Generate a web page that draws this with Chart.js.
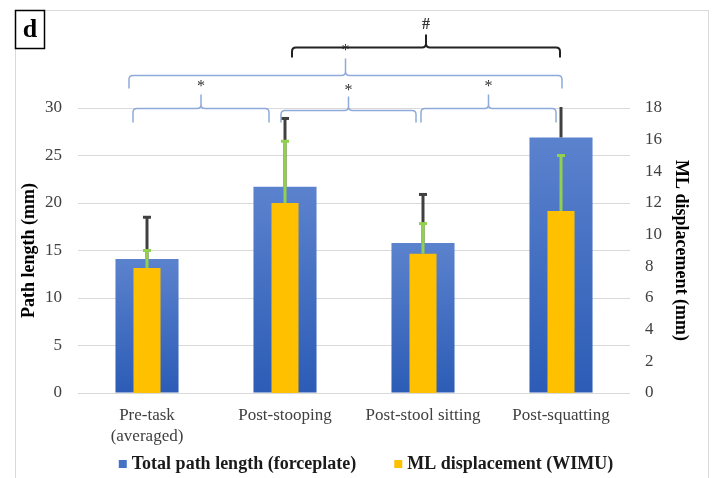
<!DOCTYPE html>
<html>
<head>
<meta charset="utf-8">
<script src="https://cdn.jsdelivr.net/npm/chart.js@4"></script>
<style>
  body { margin: 0; background: #fff; }
  canvas { display: block; }
</style>
</head>
<body>
<canvas id="chart" width="720" height="478"></canvas>
<script>
// Sway data (panel d)
const categories = [['Pre-task', '(averaged)'], 'Post-stooping', 'Post-stool sitting', 'Post-squatting'];
const pathLength = [14.1, 21.7, 15.8, 26.9];     // mm, left axis
const pathLengthSD = [4.4, 7.2, 5.1, 3.6];
const mlDisplacement = [7.9, 12.0, 8.8, 11.5];   // mm, right axis
const mlDisplacementSD = [1.1, 3.9, 1.9, 3.5];
const pathTicks = [0, 30, 5];
const mlTicks = [0, 18, 2];

// significance brackets: category indices, level on left axis, label
const brackets = [
    { from: 0, to: 1, level: 30.0, label: '*' },
    { from: 1, to: 2, level: 29.8, label: '*' },
    { from: 2, to: 3, level: 30.0, label: '*' },
    { from: 0, to: 3, level: 33.5, label: '*' },
    { from: 1, to: 3, level: 36.4, label: '#' }
];
// pixel trims at the bracket ends and look of each bracket
const bracketStyle = [
    { dx0: -14, dx1: -16, color: '#8eaadb', width: 1.5, drop: 14, tip: 14, gap: 22 },
    { dx0: -4, dx1: -7, color: '#8eaadb', width: 1.5, drop: 12, tip: 14, gap: 20 },
    { dx0: -2, dx1: -5, color: '#8eaadb', width: 1.5, drop: 14, tip: 14, gap: 22 },
    { dx0: -18, dx1: 1, color: '#8eaadb', width: 1.5, drop: 13, tip: 17, gap: 25 },
    { dx0: 7, dx1: -1, color: '#222222', width: 2, drop: 10, tip: 13, gap: 23 }
];

const serif = '"Liberation Serif", "Times New Roman", serif';
const legendColors = ['#4472c4', '#ffc000'];

function blueGradient(ctx) {
    const chart = ctx.chart;
    if (ctx.type !== 'data' || !chart.chartArea) return '#4472c4';
    const y = chart.scales.y;
    const top = y.getPixelForValue(ctx.raw);
    const bottom = y.getPixelForValue(0);
    const g = chart.ctx.createLinearGradient(0, top, 0, bottom);
    g.addColorStop(0, '#5b82cd');
    g.addColorStop(1, '#2c5cb6');
    return g;
}

// error bars (upward only, like the figure)
const errorBars = {
    id: 'errorBars',
    afterDatasetsDraw(chart) {
        const ctx = chart.ctx;
        const area = chart.chartArea;
        const x = chart.scales.x;
        const sets = [
            { scale: chart.scales.y, mean: pathLength, sd: pathLengthSD, color: '#404040' },
            { scale: chart.scales.y1, mean: mlDisplacement, sd: mlDisplacementSD, color: '#92d050' }
        ];
        ctx.save();
        ctx.beginPath();
        ctx.rect(area.left, area.top - 1, area.right - area.left, area.bottom - area.top + 1);
        ctx.clip();
        sets.forEach(s => {
            ctx.strokeStyle = s.color;
            ctx.lineWidth = 3;
            s.mean.forEach((m, i) => {
                const cx = x.getPixelForValue(i);
                const y0 = s.scale.getPixelForValue(m);
                const y1 = s.scale.getPixelForValue(m + s.sd[i]);
                ctx.beginPath();
                ctx.moveTo(cx, y0);
                ctx.lineTo(cx, y1);
                ctx.stroke();
                ctx.beginPath();
                ctx.moveTo(cx - 4, y1);
                ctx.lineTo(cx + 4, y1);
                ctx.stroke();
            });
        });
        ctx.restore();
    }
};

// curly brackets, legend, frame and panel letter
const annotations = {
    id: 'annotations',
    afterDraw(chart) {
        const ctx = chart.ctx;
        const x = chart.scales.x;
        const y = chart.scales.y;
        ctx.save();
        brackets.forEach((b, k) => {
            const st = bracketStyle[k];
            const x0 = x.getPixelForValue(b.from) + st.dx0;
            const x1 = x.getPixelForValue(b.to) + st.dx1;
            const yl = Math.round(y.getPixelForValue(b.level)) + 0.5;
            const mid = (x0 + x1) / 2;
            const r = 4;
            ctx.strokeStyle = st.color;
            ctx.lineWidth = st.width;
            ctx.beginPath();
            ctx.moveTo(x0, yl + st.drop);
            ctx.lineTo(x0, yl + r);
            ctx.quadraticCurveTo(x0, yl, x0 + r, yl);
            ctx.lineTo(mid - r, yl);
            ctx.quadraticCurveTo(mid, yl, mid, yl - r);
            ctx.lineTo(mid, yl - st.tip);
            ctx.moveTo(mid, yl - r);
            ctx.quadraticCurveTo(mid, yl, mid + r, yl);
            ctx.lineTo(x1 - r, yl);
            ctx.quadraticCurveTo(x1, yl, x1, yl + r);
            ctx.lineTo(x1, yl + st.drop);
            ctx.stroke();
            ctx.fillStyle = '#333';
            ctx.font = (b.label === '#' ? 'bold 16px ' : '16px ') + serif;
            ctx.textAlign = 'center';
            ctx.textBaseline = 'middle';
            ctx.fillText(b.label, mid, yl - st.gap);
        });

        // legend
        ctx.font = 'bold 18px ' + serif;
        ctx.textAlign = 'left';
        ctx.textBaseline = 'middle';
        const items = chart.data.datasets.map((d, i) => ({ text: d.label, color: legendColors[i] }));
        const widths = items.map(it => 8 + 5 + ctx.measureText(it.text).width);
        const gap = 38;
        const total = widths.reduce((a, b) => a + b, 0) + gap * (items.length - 1);
        let lx = 366 - total / 2;
        const ly = 464;
        items.forEach((it, i) => {
            ctx.fillStyle = it.color;
            ctx.fillRect(lx, ly - 4, 8, 8);
            ctx.fillStyle = '#1a1a1a';
            ctx.fillText(it.text, lx + 13, ly);
            lx += widths[i] + gap;
        });

        // outer frame
        ctx.strokeStyle = '#d9d9d9';
        ctx.lineWidth = 1;
        ctx.strokeRect(15.5, 10.5, 693, 490);
        // panel letter
        ctx.strokeStyle = '#000';
        ctx.lineWidth = 1.5;
        ctx.strokeRect(15.5, 10.5, 29, 38);
        ctx.fillStyle = '#000';
        ctx.font = 'bold 26px ' + serif;
        ctx.textAlign = 'center';
        ctx.fillText('d', 30, 30);
        ctx.restore();
    }
};

new Chart(document.getElementById('chart'), {
    type: 'bar',
    data: {
        labels: categories,
        datasets: [{
            label: 'Total path length (forceplate)',
            data: pathLength,
            yAxisID: 'y',
            backgroundColor: blueGradient,
            grouped: false,
            categoryPercentage: 1,
            barPercentage: 0.457,
            order: 2
        }, {
            label: 'ML displacement (WIMU)',
            data: mlDisplacement,
            yAxisID: 'y1',
            backgroundColor: '#ffc000',
            grouped: false,
            categoryPercentage: 1,
            barPercentage: 0.196,
            order: 1
        }]
    },
    options: {
        responsive: false,
        animation: false,
        layout: { padding: { top: 108, left: 19, right: 29, bottom: 0 } },
        plugins: {
            tooltip: { enabled: false },
            legend: { display: false }
        },
        scales: {
            x: {
                grid: { display: false, drawTicks: false },
                border: { display: false },
                ticks: { color: '#404040', font: { family: serif, size: 17, lineHeight: 1.25 }, maxRotation: 0, padding: 12 },
                afterFit: s => { s.height = 85; }
            },
            y: {
                position: 'left',
                min: pathTicks[0],
                max: pathTicks[1],
                ticks: { stepSize: pathTicks[2], color: '#404040', font: { family: serif, size: 17 }, padding: 16 },
                grid: { color: '#d9d9d9', drawTicks: false },
                border: { display: false },
                title: { display: true, text: 'Path length (mm)', color: '#000', font: { family: serif, size: 18, weight: 'bold' }, padding: 0 },
                afterFit: s => { s.width = 59; }
            },
            y1: {
                position: 'right',
                min: mlTicks[0],
                max: mlTicks[1],
                ticks: { stepSize: mlTicks[2], color: '#404040', font: { family: serif, size: 17 }, padding: 15 },
                grid: { display: false, drawTicks: false },
                border: { display: false },
                title: { display: true, text: 'ML displacement (mm)', color: '#000', font: { family: serif, size: 18, weight: 'bold' }, padding: 0 },
                afterFit: s => { s.width = 61; }
            }
        }
    },
    plugins: [errorBars, annotations]
});
</script>
</body>
</html>
